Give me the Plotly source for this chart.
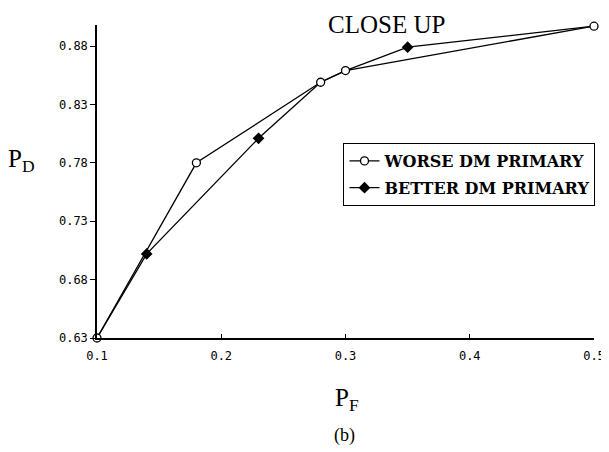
import plotly.graph_objects as go

# Data
worse_pf = [0.10, 0.18, 0.28, 0.30, 0.50]
worse_pd = [0.630, 0.780, 0.849, 0.859, 0.897]
better_pf = [0.10, 0.14, 0.23, 0.28, 0.30, 0.35, 0.50]
better_pd = [0.630, 0.702, 0.801, 0.849, 0.859, 0.879, 0.897]
better_marker_pf = [0.14, 0.23, 0.35]
better_marker_pd = [0.702, 0.801, 0.879]
x_ticks = [0.1, 0.2, 0.3, 0.4, 0.5]
y_ticks = [0.63, 0.68, 0.73, 0.78, 0.83, 0.88]

fig = go.Figure()
fig.add_trace(go.Scatter(x=better_pf, y=better_pd, mode="lines",
                         line=dict(color="black", width=1.3),
                         showlegend=False, hoverinfo="skip", cliponaxis=False))
fig.add_trace(go.Scatter(x=worse_pf, y=worse_pd, mode="lines+markers",
                         name="<b>WORSE DM PRIMARY</b>", legendgroup="w",
                         line=dict(color="black", width=1.3),
                         marker=dict(symbol="circle", size=8, color="white",
                                     line=dict(color="black", width=1.3)),
                         cliponaxis=False))
fig.add_trace(go.Scatter(x=better_marker_pf, y=better_marker_pd, mode="markers",
                         name="<b>BETTER DM PRIMARY</b>", legendgroup="b",
                         marker=dict(symbol="diamond", size=9, color="black"),
                         cliponaxis=False, showlegend=False))
fig.add_trace(go.Scatter(x=[None], y=[None], mode="lines+markers",
                         name="<b>BETTER DM PRIMARY</b>", legendgroup="b",
                         line=dict(color="black", width=1.3),
                         marker=dict(symbol="diamond", size=9, color="black")))

tick_font = dict(family="DejaVu Sans Mono", size=12, color="black")
# Screen placement of the plot area (page is offset by ~8px)
SX0, SY0 = 97, 25      # screen left/top of plot area
PW, PH = 496, 313      # actual plot area size on screen
fig.update_layout(
    width=609, height=452,
    margin=dict(l=89, r=16, t=17, b=122),
    paper_bgcolor="white", plot_bgcolor="white",
    xaxis=dict(range=[0.1, 0.5], tickvals=x_ticks,
               ticktext=[f"{v:.1f}" for v in x_ticks],
               showgrid=False, zeroline=False, showline=True,
               linecolor="black", linewidth=1.5, ticks="inside", ticklen=4,
               tickcolor="black", tickfont=tick_font, ticklabelstandoff=6),
    yaxis=dict(range=[0.63, 0.898], tickvals=y_ticks,
               ticktext=[f"{v:.2f}" for v in y_ticks],
               showgrid=False, zeroline=False, showline=True,
               linecolor="black", linewidth=1.5, ticks="outside", ticklen=5,
               tickcolor="black", tickfont=tick_font),
    legend=dict(x=(343 - SX0) / PW, y=(SY0 + PH - 143) / PH,
                xanchor="left", yanchor="top",
                bordercolor="black", borderwidth=1, bgcolor="white",
                traceorder="grouped", tracegroupgap=3,
                font=dict(family="DejaVu Serif", size=16, color="black")),
    showlegend=True,
)

serif = "Liberation Serif"


def px(xp, yp):
    return (xp - SX0) / PW, (SY0 + PH - yp) / PH


for text, (xp, yp), size, ya in [("CLOSE UP", (386, 9), 25, "top"),
                                 ("P<sub>D</sub>", (22, 160), 25, "middle"),
                                 ("P<sub>F</sub>", (346, 400), 25, "middle"),
                                 ("(b)", (344, 435), 18, "middle")]:
    xx, yy = px(xp, yp)
    fig.add_annotation(text=text, x=xx, y=yy, xref="paper", yref="paper",
                       xanchor="center", yanchor=ya, showarrow=False,
                       font=dict(family=serif, size=size, color="black"))

fig.write_html("out.html")
